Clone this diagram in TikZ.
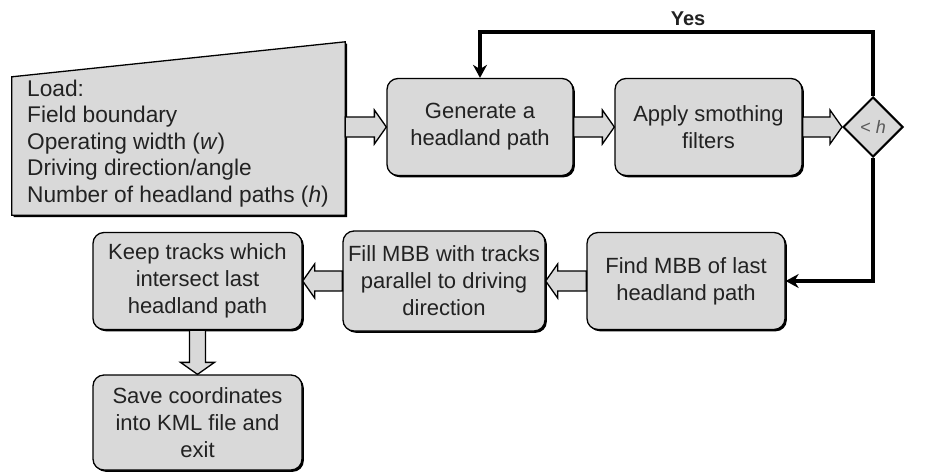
\documentclass[tikz,border=0pt]{standalone}
\usepackage{fontspec}
\setmainfont{Liberation Sans}
\usetikzlibrary{shapes.geometric,shadows,calc,arrows.meta}
\definecolor{boxgray}{HTML}{D9D9D9}
\definecolor{txt}{HTML}{222222}
\newcommand{\blockR}[2]{\draw[barrow] let \p1=(#1), \p2=(#2) in (\x1,\y2-10pt) -- (\x2-12pt,\y2-10pt) -- (\x2-12pt,\y2-17pt) -- (\x2,\y2) -- (\x2-12pt,\y2+17pt) -- (\x2-12pt,\y2+10pt) -- (\x1,\y2+10pt) -- cycle;}
\newcommand{\blockL}[2]{\draw[barrow] let \p1=(#1), \p2=(#2) in (\x1,\y2-10pt) -- (\x2+12pt,\y2-10pt) -- (\x2+12pt,\y2-17pt) -- (\x2,\y2) -- (\x2+12pt,\y2+17pt) -- (\x2+12pt,\y2+10pt) -- (\x1,\y2+10pt) -- cycle;}
\newcommand{\blockD}[2]{\draw[barrow] let \p1=(#1), \p2=(#2) in (\x1-8pt,\y1) -- (\x1-8pt,\y2+12pt) -- (\x1-17pt,\y2+12pt) -- (\x1,\y2) -- (\x1+17pt,\y2+12pt) -- (\x1+8pt,\y2+12pt) -- (\x1+8pt,\y1) -- cycle;}
\begin{document}
\begin{tikzpicture}[x=1pt,y=-1pt,
  shad/.style={drop shadow={shadow xshift=1.8pt, shadow yshift=-1.8pt, fill=black, opacity=1}},
  box/.style={draw=black, line width=1.3pt, fill=boxgray, rounded corners=11pt, align=center,
    font=\fontsize{22}{27}\selectfont, text=txt, inner sep=0pt, minimum height=97pt, shad},
  barrow/.style={draw=black, line width=1.3pt, fill=boxgray},
  flow/.style={line width=3.6pt, -{Stealth[length=13pt,width=14pt]}}]
\useasboundingbox (0,0) rectangle (925,472);
% load (manual input)
\node[minimum width=333pt, minimum height=173pt, inner sep=0pt] (load) at (178.5,128.5) {};
\path[draw=black, line width=1.3pt, fill=boxgray, shad] ($(load.north west)+(0,35)$) -- (load.north east) -- (load.south east) -- (load.south west) -- cycle;
\node[anchor=west, align=left, inner sep=0pt, text=txt, font=\fontsize{22.7}{26.6}\selectfont] (loadtxt) at (27,143.5)
  {Load:\\Field boundary\\Operating width (\textit{w})\\Driving direction/angle\\Number of headland paths (\textit{h})};
% boxes
\node[box, minimum width=186pt] (gen) at (480,127) {Generate a\\headland path};
\node[box, minimum width=187pt] (app) at (708.5,127) {Apply smothing\\filters};
\node[diamond, draw=black, line width=2pt, fill=boxgray, minimum width=60pt, minimum height=60pt, inner sep=0pt,
  text=txt!75, font=\fontsize{18}{20}\selectfont] (dec) at (873,127) {< \textit{h}};
\node[box, minimum width=198pt] (find) at (686,281) {Find MBB of last\\headland path};
\node[box, minimum width=202pt, minimum height=100pt] (fill) at (444,281) {Fill MBB with tracks\\parallel to driving\\direction};
\node[box, minimum width=209pt] (keep) at (197.5,281) {Keep tracks which\\intersect last\\headland path};
\node[box, minimum width=209pt, minimum height=95pt] (save) at (197.5,422.5) {Save coordinates\\into KML file and\\exit};
% block arrows
\blockR{load.east}{gen.west}
\blockR{gen.east}{app.west}
\blockR{app.east}{dec.west}
\blockL{find.west}{fill.east}
\blockL{fill.west}{keep.east}
\blockD{keep.south}{save.north}
% line connectors
\draw[flow] (dec.north) -- ++(0,-64) coordinate (topR) -| (gen.north);
\node[font=\bfseries\fontsize{20}{22}\selectfont, text=txt] (yes) at (688,19) {Yes};
\draw[flow] (dec.south) |- (find.east);
\end{tikzpicture}
\end{document}
